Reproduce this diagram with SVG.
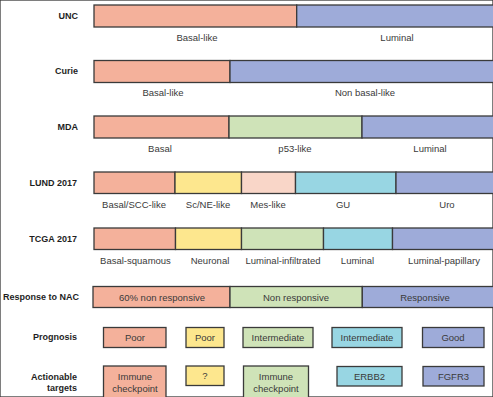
<svg xmlns="http://www.w3.org/2000/svg" width="493" height="397" viewBox="0 0 493 397">
<style>
rect{stroke:#3a3a3a;stroke-width:1.3}
.r{fill:#F4B19B}.b{fill:#9EABD9}.g{fill:#CFE3B8}.y{fill:#FDE78E}.p{fill:#F9D6C8}.c{fill:#98D6E3}
text{font-family:"Liberation Sans",Arial,sans-serif;font-size:9.5px;fill:#3a3a3a;text-anchor:middle}
.h{font-weight:bold;font-size:9px;fill:#1e1e1e;text-anchor:end}
</style>
<rect width="493" height="397" fill="#fff" stroke="none"/>
<g id="row-labels">
<text class="h" x="78" y="19">UNC</text>
<text class="h" x="78" y="74">Curie</text>
<text class="h" x="78" y="130">MDA</text>
<text class="h" x="77" y="186">LUND 2017</text>
<text class="h" x="77" y="242">TCGA 2017</text>
<text class="h" x="79" y="300">Response to NAC</text>
<text class="h" x="77" y="340">Prognosis</text>
<text class="h" x="77" y="380">Actionable</text>
<text class="h" x="77" y="391">targets</text>
</g>
<g id="unc">
<rect class="r" x="94" y="5" width="202.7" height="22"/>
<rect class="b" x="296.7" y="5" width="200" height="22"/>
<text x="197" y="41">Basal-like</text>
<text x="397" y="41">Luminal</text>
</g>
<g id="curie">
<rect class="r" x="94" y="60.5" width="136" height="22"/>
<rect class="b" x="230" y="60.5" width="267" height="22"/>
<text x="163" y="96">Basal-like</text>
<text x="365" y="96">Non basal-like</text>
</g>
<g id="mda">
<rect class="r" x="94" y="116" width="135" height="22"/>
<rect class="g" x="229" y="116" width="133" height="22"/>
<rect class="b" x="362" y="116" width="135" height="22"/>
<text x="160" y="152">Basal</text>
<text x="295" y="152">p53-like</text>
<text x="430" y="152">Luminal</text>
</g>
<g id="lund">
<rect class="r" x="94" y="172" width="81" height="21.5"/>
<rect class="y" x="175" y="172" width="66.5" height="21.5"/>
<rect class="p" x="241.5" y="172" width="54" height="21.5"/>
<rect class="c" x="295.5" y="172" width="100.5" height="21.5"/>
<rect class="b" x="396" y="172" width="101" height="21.5"/>
<text x="134" y="207.5">Basal/SCC-like</text>
<text x="208" y="207.5">Sc/NE-like</text>
<text x="268" y="207.5">Mes-like</text>
<text x="343" y="207.5">GU</text>
<text x="447" y="207.5">Uro</text>
</g>
<g id="tcga">
<rect class="r" x="94" y="228" width="81.5" height="21.5"/>
<rect class="y" x="175.5" y="228" width="66" height="21.5"/>
<rect class="g" x="241.5" y="228" width="82" height="21.5"/>
<rect class="c" x="323.5" y="228" width="69" height="21.5"/>
<rect class="b" x="392.5" y="228" width="104.5" height="21.5"/>
<text x="135.5" y="263.5">Basal-squamous</text>
<text x="210" y="263.5">Neuronal</text>
<text x="283" y="263.5">Luminal-infiltrated</text>
<text x="357.5" y="263.5">Luminal</text>
<text x="444" y="263.5">Luminal-papillary</text>
</g>
<g id="response">
<rect class="r" x="93" y="286.5" width="137" height="21"/>
<rect class="g" x="230" y="286.5" width="132.3" height="21"/>
<rect class="b" x="362.3" y="286.5" width="135" height="21"/>
<text x="162" y="300.5">60% non responsive</text>
<text x="296" y="300.5">Non responsive</text>
<text x="425" y="300.5">Responsive</text>
</g>
<g id="prognosis">
<rect class="r" x="103.5" y="327.5" width="62.5" height="20"/>
<rect class="y" x="186" y="327.5" width="38" height="20"/>
<rect class="g" x="243" y="327.5" width="70" height="20"/>
<rect class="c" x="332" y="327.5" width="70" height="20"/>
<rect class="b" x="422.5" y="327.5" width="61.5" height="20"/>
<text x="135" y="341">Poor</text>
<text x="205" y="341">Poor</text>
<text x="278" y="341">Intermediate</text>
<text x="367" y="341">Intermediate</text>
<text x="453" y="341">Good</text>
</g>
<g id="targets">
<rect class="r" x="103.5" y="366" width="62.5" height="36"/>
<rect class="y" x="186" y="366" width="38" height="19.5"/>
<rect class="g" x="243.5" y="366" width="65" height="36"/>
<rect class="c" x="337" y="366.5" width="65" height="19.5"/>
<rect class="b" x="423" y="366.5" width="61" height="19.5"/>
<text x="135" y="380">Immune</text>
<text x="135" y="391.5">checkpoint</text>
<text x="205" y="379">?</text>
<text x="276" y="380">Immune</text>
<text x="276" y="391.5">checkpoint</text>
<text x="369.5" y="379.5">ERBB2</text>
<text x="453.5" y="379.5">FGFR3</text>
</g>
<g id="connectors"/>
</svg>
